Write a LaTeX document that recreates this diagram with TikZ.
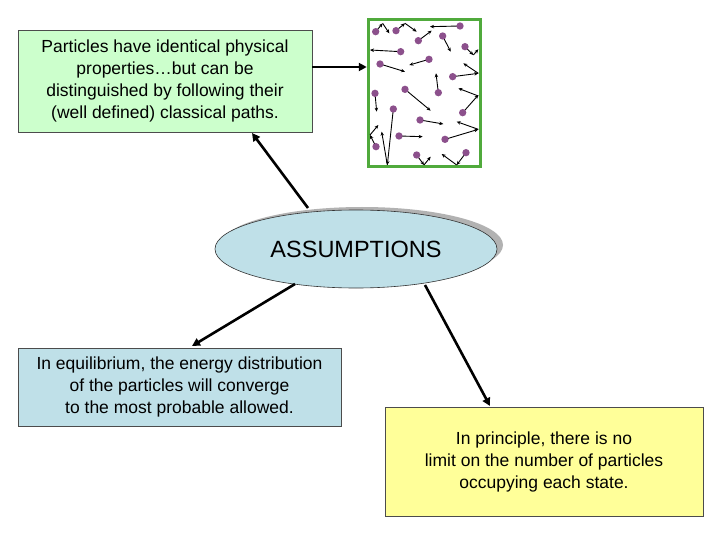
\documentclass[tikz,border=0pt]{standalone}
\usepackage{fontspec}
\setmainfont{Liberation Sans}
\usetikzlibrary{arrows.meta,shapes.geometric}
\definecolor{cgreen}{RGB}{204,255,204}
\definecolor{cblue}{RGB}{191,224,232}
\definecolor{cyellow}{RGB}{255,255,153}
\definecolor{cframe}{RGB}{80,170,60}
\definecolor{cdot}{RGB}{140,80,140}
\begin{document}
\begin{tikzpicture}[x=1pt,y=-1pt,
  tbox/.style={draw=black!70,line width=0.6pt,align=center,inner sep=0pt,font=\fontsize{17.5}{22}\selectfont},
  conn/.style={line width=2.6pt,-{Triangle[length=8pt,width=8pt]}},
  pa/.style={line width=0.9pt,-{Stealth[length=4pt,width=3.5pt]}}]
\useasboundingbox (0,0) rectangle (720,540);
\fill[white] (0,0) rectangle (720,540);
% boxes
\node[tbox,fill=cgreen,minimum width=294pt,minimum height=102pt] (b1) at (165,81) {Particles have identical physical\\properties\dots but can be\\distinguished by following their\\(well defined) classical paths.};
\node[tbox,fill=cblue,minimum width=323pt,minimum height=78pt] (b2) at (179.5,387) {In equilibrium, the energy distribution\\of the particles will converge\\to the most probable allowed.};
\node[tbox,fill=cyellow,minimum width=318pt,minimum height=109pt] (b3) at (544,461.5) {In principle, there is no\\limit on the number of particles\\occupying each state.};
% particle box
\node[draw=cframe,line width=3.5pt,minimum width=112pt,minimum height=147pt,inner sep=0pt] (pb) at (424.5,93) {};
\begin{scope}[shift={(360,10)},scale=1/3]
\foreach \a/\b/\c/\d in {47/65/68/40, 108/62/135/40, 135/40/170/65, 175/92/215/62, 300/48/210/50, 248/78/272/125,
 315/110/340/135, 340/135/355/118, 122/125/30/120, 60/162/135/185, 207/148/148/165, 278/200/355/190, 355/190/310/160,
 235/248/228/190, 45/250/50/305, 135/238/212/302, 308/308/355/255, 355/258/295/235, 100/297/82/465, 82/465/65/365,
 180/330/250/342, 255/388/355/358, 355/358/290/335, 117/378/188/380, 48/410/30/375, 30/375/55/345,
 170/435/192/465, 192/465/212/440, 318/428/290/465, 290/465/245/432, 68/40/88/70}
  \draw[pa] (\a,\b) -- (\c,\d);
\foreach \a/\b in {47/65,108/62,175/92,300/48,248/78,315/110,122/125,60/162,207/148,278/200,235/248,45/250,135/238,308/308,100/297,180/330,255/388,117/378,48/410,170/435,318/428}
  \fill[cdot] (\a,\b) circle[radius=11];
\end{scope}
% ellipse
\fill[gray!60] (362,245) ellipse[x radius=141pt,y radius=38pt];
\node[draw=black!80,line width=0.6pt,fill=cblue,ellipse,inner sep=0pt,minimum width=282pt,minimum height=78pt,font=\fontsize{23.5}{28}\selectfont] (el) at (356,249) {ASSUMPTIONS};
% connectors
\coordinate (e1) at (308,208);
\coordinate (e2) at (295,284);
\coordinate (e3) at (425,285);
\draw[conn] (b1.east |- 0,67) -- (pb.west |- 0,67);
\draw[conn] (e1) -- (252,133);
\draw[conn] (e2) -- (192,346);
\draw[conn] (e3) -- (490,406);
\end{tikzpicture}
\end{document}
